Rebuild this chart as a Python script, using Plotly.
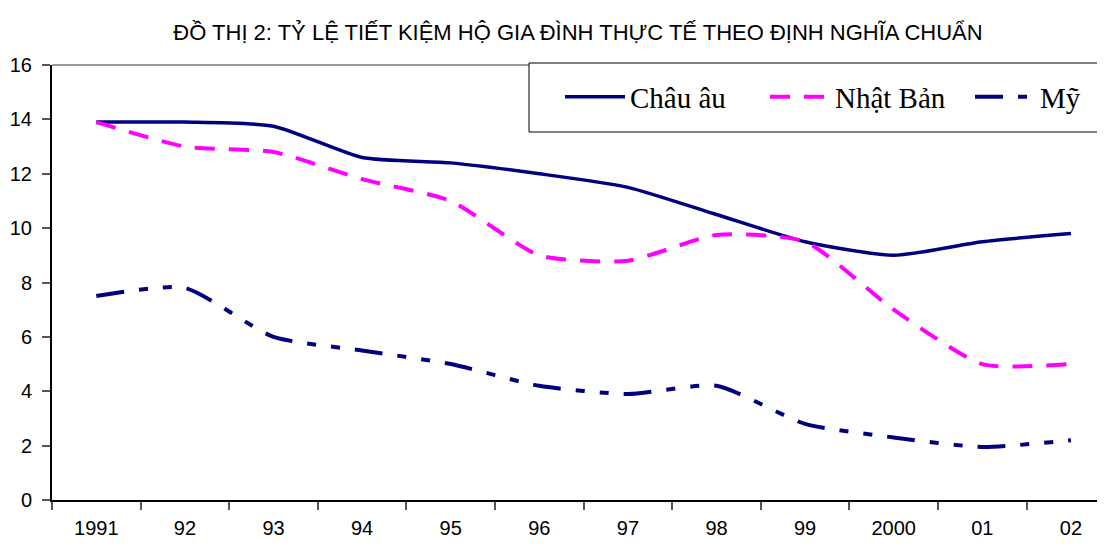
import plotly.graph_objects as go

years = ["1991", "92", "93", "94", "95", "96", "97", "98", "99", "2000", "01", "02"]
chau_au = [13.9, 13.9, 13.75, 12.6, 12.4, 12.0, 11.5, 10.5, 9.5, 9.0, 9.5, 9.8]
nhat_ban = [13.9, 13.0, 12.8, 11.8, 11.0, 9.0, 8.8, 9.75, 9.5, 7.0, 5.0, 5.0]
my = [7.5, 7.8, 6.0, 5.5, 5.0, 4.2, 3.9, 4.2, 2.8, 2.3, 1.95, 2.2]
y_ticks = [0, 2, 4, 6, 8, 10, 12, 14, 16]

# page body has an 8px default margin: work in window coords, convert to figure coords
OFF = 8
WIN_W, WIN_H = 1105, 547
W, H = WIN_W - OFF, WIN_H - OFF
plot_left, plot_top, plot_bottom = 52, 65, 500  # window coords
L = plot_left - OFF
T = plot_top - OFF
B = WIN_H - plot_bottom
R = 0
pw = W - L - R
ph = H - T - B
cat_w = 88.6
x_max = -0.5 + pw / cat_w


def px_x(p):
    return (p - plot_left) / pw


def px_y(p):
    return (plot_bottom - p) / ph


fig = go.Figure()
fig.add_trace(go.Scatter(x=years, y=chau_au, name="Châu âu", mode="lines",
                         line=dict(color="#000080", width=3.5, shape="spline", smoothing=0.6)))
fig.add_trace(go.Scatter(x=years, y=nhat_ban, name="Nhật Bản", mode="lines",
                         line=dict(color="#FF00FF", width=4, dash="20px,14px", shape="spline", smoothing=0.6)))
fig.add_trace(go.Scatter(x=years, y=my, name="Mỹ", mode="lines",
                         line=dict(color="#000080", width=4, dash="28px,15px,9px,15px,9px,15px",
                                   shape="spline", smoothing=0.6)))

shapes = [
    dict(type="line", xref="paper", yref="paper", x0=0, x1=1, y0=1, y1=1,
         line=dict(color="#9a9a9a", width=2), layer="above"),
    dict(type="rect", xref="paper", yref="paper",
         x0=px_x(529), x1=px_x(1100), y0=px_y(132), y1=px_y(63),
         fillcolor="white", line=dict(color="black", width=1), layer="above"),
]

fig.update_layout(
    width=W, height=H,
    margin=dict(l=L, r=R, t=T, b=B, autoexpand=False),
    paper_bgcolor="white", plot_bgcolor="white",
    title=dict(text="ĐỒ THỊ 2: TỶ LỆ TIẾT KIỆM HỘ GIA ĐÌNH THỰC TẾ THEO ĐỊNH NGHĨA CHUẨN",
               x=(578 - OFF) / W, xanchor="center", y=1 - (32 - OFF) / H, yanchor="middle",
               font=dict(family="Liberation Sans, Arial", size=22, color="black")),
    showlegend=True,
    legend=dict(orientation="h", x=px_x(560), y=px_y(97), xanchor="left", yanchor="middle",
                bgcolor="rgba(0,0,0,0)", borderwidth=0,
                font=dict(family="Liberation Serif, Times New Roman, serif", size=29, color="black"),
                entrywidth=130, itemwidth=60),
    shapes=shapes,
    xaxis=dict(type="category", range=[-0.5, x_max], showgrid=False, zeroline=False,
               showline=True, linecolor="black", linewidth=2,
               ticks="outside", tickson="boundaries", ticklen=8, tickcolor="#555555", tickwidth=1.5,
               ticklabelstandoff=9, automargin=False,
               tickfont=dict(family="Liberation Sans, Arial", size=20, color="black"),
               fixedrange=True),
    yaxis=dict(range=[0, 16], tickvals=y_ticks, showgrid=False, zeroline=False,
               showline=True, linecolor="black", linewidth=2,
               ticks="outside", ticklen=8, tickcolor="#555555", tickwidth=1.5,
               ticklabelstandoff=6, automargin=False,
               tickfont=dict(family="Liberation Sans, Arial", size=20, color="black"),
               fixedrange=True),
)

fig.write_html("out.html")
